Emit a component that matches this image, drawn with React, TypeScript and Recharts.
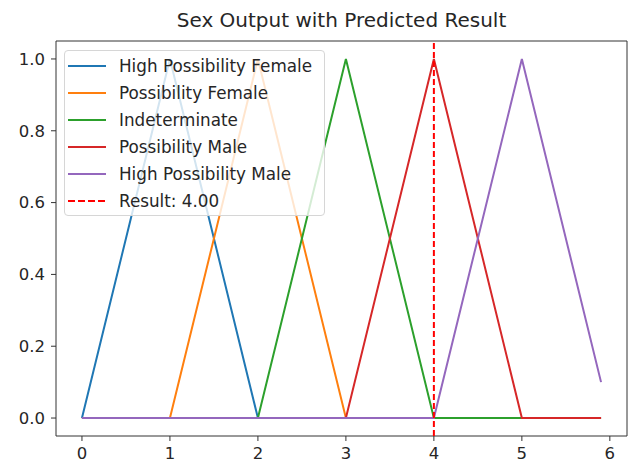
import { LineChart, Line, XAxis, YAxis, ReferenceLine, ReferenceArea } from "recharts"

const xValues = [0, 1, 2, 3, 4, 5, 5.9]
const highFemale = [0, 1, 0, 0, 0, 0, 0]
const possFemale = [0, 0, 1, 0, 0, 0, 0]
const indeterminate = [0, 0, 0, 1, 0, 0, 0]
const possMale = [0, 0, 0, 0, 1, 0, 0]
const highMale = [0, 0, 0, 0, 0, 1, 0.1]
const result = 4.0

const xTicks = [0, 1, 2, 3, 4, 5, 6]
const yTicks = [0, 0.2, 0.4, 0.6, 0.8, 1.0]

const seriesNames = [
  "High Possibility Female",
  "Possibility Female",
  "Indeterminate",
  "Possibility Male",
  "High Possibility Male",
]
const seriesKeys = ["hf", "pf", "ind", "pm", "hm"]
const colors = ["#1f77b4", "#ff7f0e", "#2ca02c", "#d62728", "#9467bd"]

const data = xValues.map((x, i) => ({
  x,
  hf: highFemale[i],
  pf: possFemale[i],
  ind: indeterminate[i],
  pm: possMale[i],
  hm: highMale[i],
}))

const font = "'DejaVu Sans', sans-serif"
const tickStyle = { fontSize: 16.5, fill: "#262626", fontFamily: font }

function LegendBox() {
  const rows = seriesNames.map((name, i) => ({ name, color: colors[i], dashed: false }))
  rows.push({ name: `Result: ${result.toFixed(2)}`, color: "#ff0000", dashed: true })
  return (
    <div
      style={{
        position: "absolute",
        left: 64,
        top: 50,
        width: 256,
        padding: "1px 0 1px 3px",
        border: "1px solid #d6d6d6",
        borderRadius: 4,
        background: "rgba(255,255,255,0.8)",
        fontFamily: font,
        fontSize: 16.8,
        color: "#262626",
      }}
    >
      {rows.map((r) => (
        <div key={r.name} style={{ height: 27, display: "flex", alignItems: "center", whiteSpace: "nowrap" }}>
          <svg width={38} height={4} style={{ marginRight: 13, flexShrink: 0 }}>
            <line
              x1={0}
              y1={2}
              x2={38}
              y2={2}
              stroke={r.color}
              strokeWidth={2}
              strokeDasharray={r.dashed ? "7 3" : undefined}
            />
          </svg>
          <span>{r.name}</span>
        </div>
      ))}
    </div>
  )
}

export default function App() {
  return (
    <div style={{ position: "absolute", left: 0, top: 0, width: 631, height: 468, background: "#fff" }}>
      <div
        style={{
          position: "absolute",
          left: 56,
          width: 571,
          top: 8,
          textAlign: "center",
          fontFamily: font,
          fontSize: 20,
          color: "#262626",
        }}
      >
        Sex Output with Predicted Result
      </div>
      <LineChart
        width={631}
        height={468}
        data={data}
        margin={{ top: 41, right: 4, left: 0, bottom: 0 }}
      >
        <XAxis
          dataKey="x"
          type="number"
          domain={[-0.295, 6.195]}
          ticks={xTicks}
          allowDataOverflow
          axisLine={false}
          tickLine={{ stroke: "#333" }}
          tickSize={5}
          tickMargin={6}
          height={32}
          tick={tickStyle}
        />
        <YAxis
          type="number"
          domain={[-0.05, 1.05]}
          ticks={yTicks}
          allowDataOverflow
          axisLine={false}
          tickLine={{ stroke: "#333" }}
          tickSize={5}
          tickMargin={6}
          width={56}
          tick={tickStyle}
          tickFormatter={(v: number) => v.toFixed(1)}
        />
        <ReferenceArea
          x1={-0.295}
          x2={6.195}
          y1={-0.05}
          y2={1.05}
          fill="none"
          stroke="#333"
          strokeWidth={1}
          ifOverflow="visible"
        />
        {seriesKeys.map((k, i) => (
          <Line
            key={k}
            dataKey={k}
            name={seriesNames[i]}
            type="linear"
            stroke={colors[i]}
            strokeWidth={2}
            dot={false}
            isAnimationActive={false}
          />
        ))}
        <ReferenceLine x={result} stroke="#ff0000" strokeWidth={2} strokeDasharray="6 3" />
      </LineChart>
      <LegendBox />
    </div>
  )
}
